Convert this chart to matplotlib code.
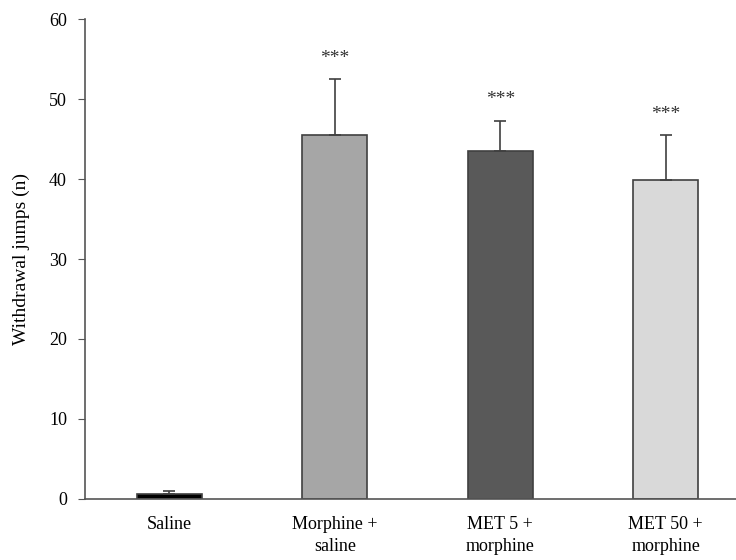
import matplotlib.pyplot as plt

plt.rcParams['font.family'] = ['Liberation Serif', 'DejaVu Serif']

# data
groups = ['Saline', 'Morphine +\nsaline', 'MET 5 +\nmorphine', 'MET 50 +\nmorphine']
means = [0.6, 45.5, 43.5, 39.9]
errs = [0.4, 7.0, 3.8, 5.6]
colors = ['#000000', '#a6a6a6', '#595959', '#d9d9d9']
stars = ['', '***', '***', '***']

fig = plt.figure(figsize=(7.36, 5.6), dpi=100)
ax = fig.add_axes([0.1155, 0.109, 0.89, 0.857])

x = range(len(groups))
ax.bar(x, means, width=0.395, color=colors, edgecolor='#404040', linewidth=1.2, zorder=2)
ax.errorbar(x, means, yerr=[[0]*len(errs), errs], fmt='none', ecolor='#404040',
            elinewidth=1.2, capsize=4, capthick=1.2, zorder=3)

# significance stars above the error bars
for xi, m, e, s in zip(x, means, errs, stars):
    if s:
        ax.text(xi, m + e + 2.6, s, ha='center', va='center', fontsize=14, color='#333333')

ax.set_xlim(-0.51, 3.45)
ax.set_ylim(0, 60)
ax.set_yticks(range(0, 61, 10))
ax.set_xticks(list(x))
ax.set_xticklabels(groups, fontsize=13, linespacing=1.45)
ax.set_ylabel('Withdrawal jumps (n)', fontsize=14, labelpad=14)

for side in ['top', 'right']:
    ax.spines[side].set_visible(False)
for side in ['left', 'bottom']:
    ax.spines[side].set_color('#555555')
    ax.spines[side].set_linewidth(1.2)
ax.tick_params(axis='y', direction='out', length=5, color='#555555', labelsize=13, pad=8)
ax.tick_params(axis='x', length=0, pad=12)

plt.savefig('out.png', dpi=100)
